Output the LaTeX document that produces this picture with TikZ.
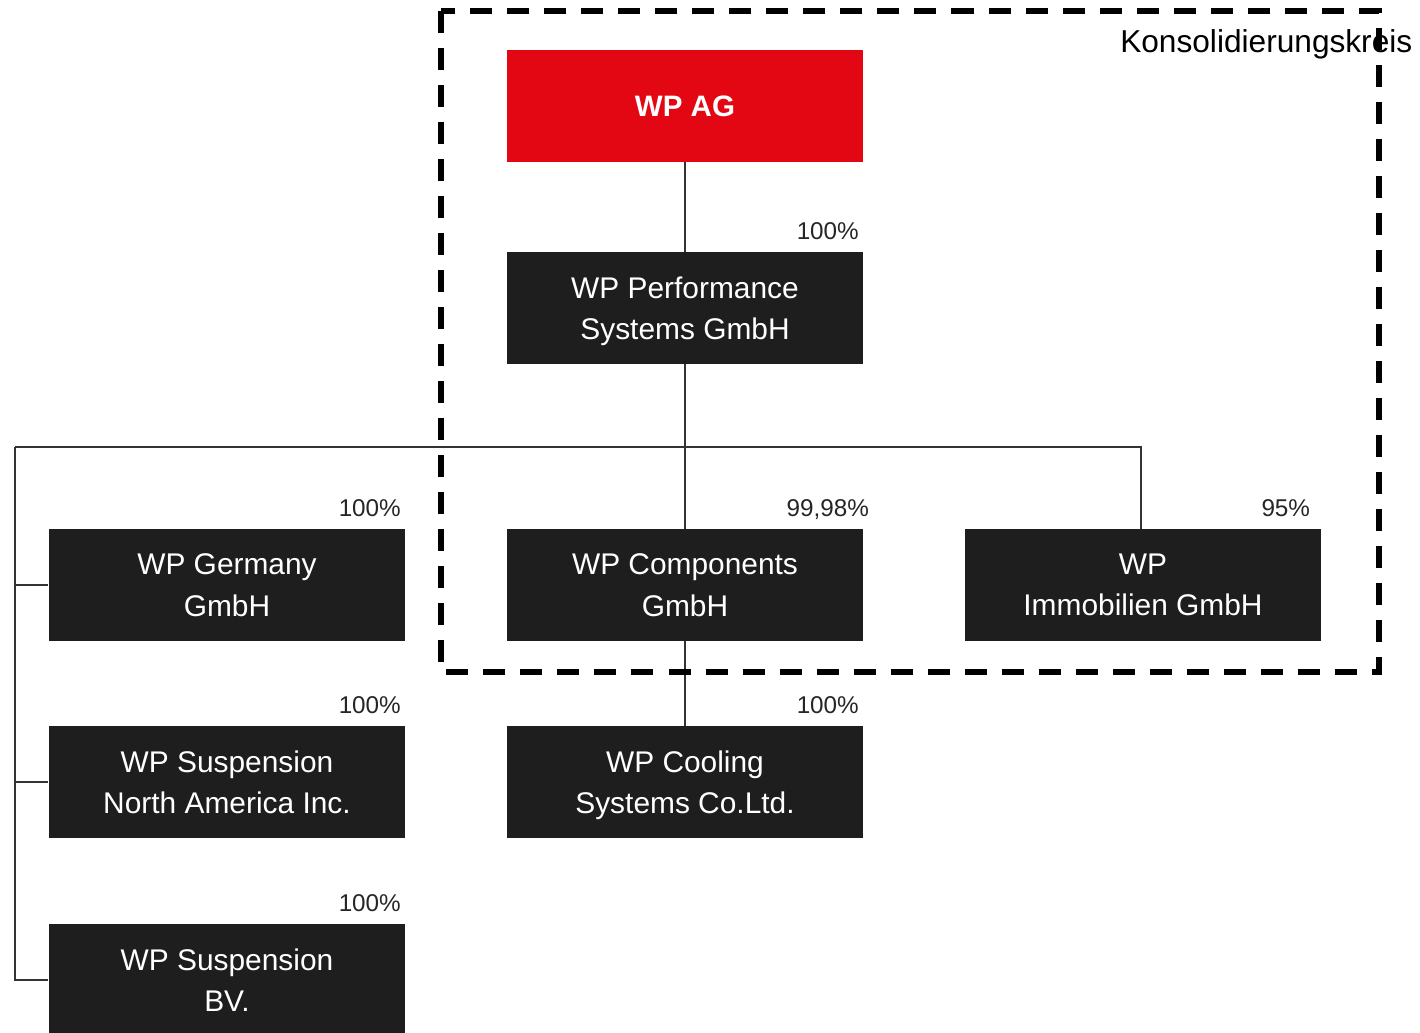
\documentclass[tikz,border=0pt]{standalone}
\usepackage{fontspec}
\setmainfont{Liberation Sans}
\usetikzlibrary{positioning}

\definecolor{wpred}{HTML}{E30613}
\definecolor{boxgray}{HTML}{1E1E1E}
\definecolor{linegray}{HTML}{333333}

\tikzset{
  entity/.style={fill=boxgray, text=white, minimum width=3.56cm, minimum height=1.11cm,
    inner sep=0pt, align=center, text depth=0pt, font=\fontsize{8.5pt}{11.7pt}\selectfont},
  parent/.style={entity, fill=wpred, font=\fontsize{8.4pt}{11.7pt}\selectfont\bfseries},
  share/.style={anchor=base, inner sep=0pt, xshift=-0.36cm, yshift=0.12cm,
    font=\fontsize{6.9pt}{8pt}\selectfont, text=black!85},
  link/.style={draw=linegray, line width=0.6pt},
  scope box/.style={draw=black, line width=1.5pt, dash pattern=on 0.22cm off 0.15cm}
}

\begin{document}
\begin{tikzpicture}[x=0.01cm,y=-0.01cm]
\useasboundingbox (0,0) rectangle (1420,1032);
\clip (0,0) rectangle (1420,1032);

% companies
\node[parent] (wpag) at (685,106) {WP AG};
\node[entity] (perf) at (685,308) {WP Performance\\Systems GmbH};
\node[entity] (comp) at (685,585) {WP Components\\GmbH};
\node[entity] (immo) at (1143,585) {WP\\Immobilien GmbH};
\node[entity] (cooling) at (685,782) {WP Cooling\\Systems Co.Ltd.};
\node[entity] (germany) at (227,585) {WP Germany\\GmbH};
\node[entity] (nainc) at (227,782) {WP Suspension\\North America Inc.};
\node[entity] (bv) at (227,980) {WP Suspension\\BV.};

% shares
\node[share] at (perf.north east) {100\%};
\node[share] at (comp.north east) {99,98\%};
\node[share] at (immo.north east) {95\%};
\node[share] at (cooling.north east) {100\%};
\node[share] at (germany.north east) {100\%};
\node[share] at (nainc.north east) {100\%};
\node[share] at (bv.north east) {100\%};

% links
\coordinate (busL) at (15,447);
\coordinate (busR) at (1141,447);
\draw[link] (wpag) -- (perf);
\draw[link] (perf) -- (comp);
\draw[link] (comp) -- (cooling);
\draw[link] (busL) -- (busR) -- (busR |- immo.north);
\draw[link] (busL) |- (germany.west);
\draw[link] (busL) |- (nainc.west);
\draw[link] (busL) |- (bv.west);

% consolidation scope
\node[anchor=east, inner sep=0pt, font=\fontsize{9pt}{11pt}\selectfont] (kreis) at (1413,44) {Konsolidierungskreis};
\draw[scope box] (441,11) rectangle (1379,672);
\end{tikzpicture}
\end{document}
